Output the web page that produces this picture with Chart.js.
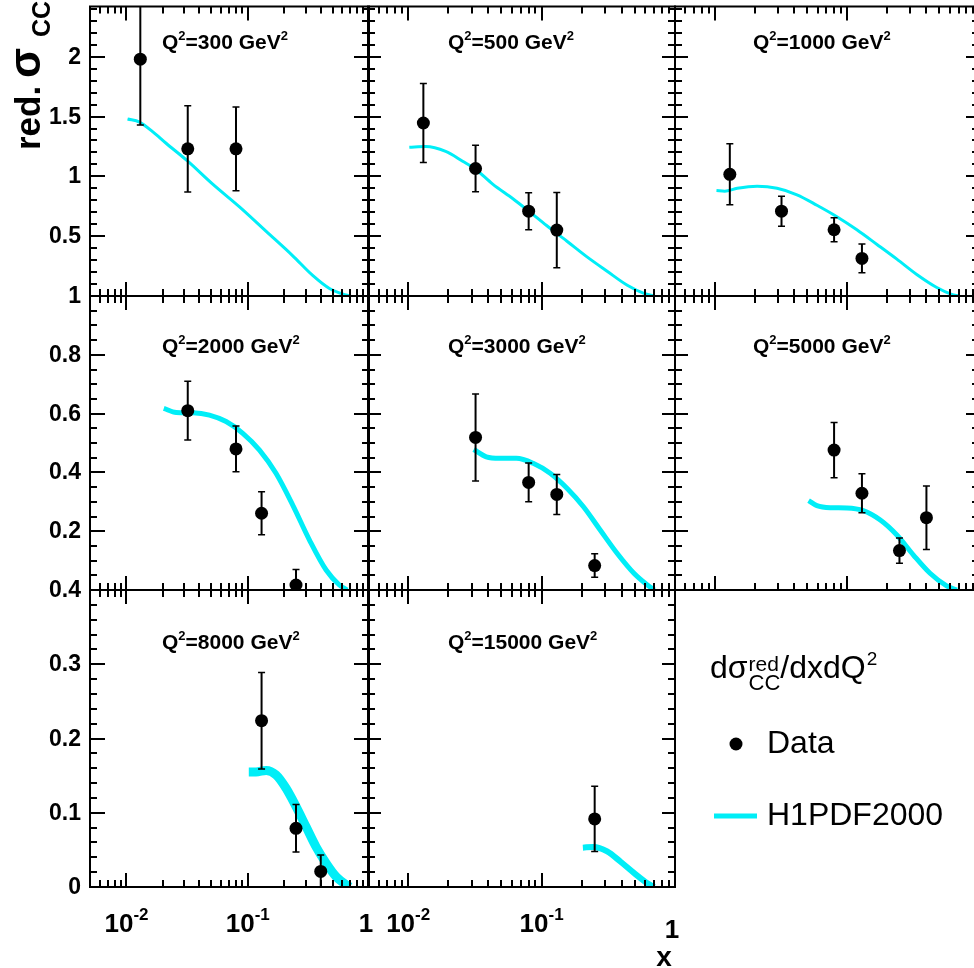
<!DOCTYPE html>
<html>
<head>
<meta charset="utf-8">
<script src="https://cdn.jsdelivr.net/npm/chart.js@4/dist/chart.umd.min.js"></script>
<style>
  html, body { margin: 0; padding: 0; background: #fff; overflow: hidden; }
  #wrap { position: relative; width: 974px; height: 968px; overflow: hidden; background: #fff; }
  #wrap canvas { position: absolute; left: 0; top: 0; }
</style>
</head>
<body>
<div id="wrap"></div>
<script>
// ---- data ----
const q2Values = ["300", "500", "1000", "2000", "3000", "5000", "8000", "15000"];

const dataX = [
  [0.013, 0.032, 0.08],
  [0.013, 0.032, 0.08, 0.13],
  [0.013, 0.032, 0.08, 0.13],
  [0.032, 0.08, 0.13, 0.25],
  [0.032, 0.08, 0.13, 0.25],
  [0.08, 0.13, 0.25, 0.40],
  [0.13, 0.25, 0.40],
  [0.25]
];
const dataY = [
  [1.98, 1.23, 1.23],
  [1.446, 1.066, 0.709, 0.551],
  [1.017, 0.709, 0.554, 0.314],
  [0.610, 0.480, 0.261, 0.017],
  [0.519, 0.366, 0.325, 0.083],
  [0.476, 0.329, 0.134, 0.246],
  [0.224, 0.079, 0.021],
  [0.0917]
];
const dataErr = [
  [0.55, 0.36, 0.35],
  [0.33, 0.195, 0.155, 0.315],
  [0.255, 0.125, 0.10, 0.12],
  [0.10, 0.078, 0.073, 0.053],
  [0.148, 0.066, 0.068, 0.040],
  [0.094, 0.066, 0.043, 0.108],
  [0.065, 0.032, 0.022],
  [0.044]
];

// H1PDF2000 curves
const curveX = [
  [0.0102, 0.0128, 0.0165, 0.0212, 0.032, 0.0514, 0.0855, 0.142, 0.235, 0.343, 0.472, 0.647, 0.70],
  [0.0102, 0.0135, 0.0191, 0.0256, 0.032, 0.043, 0.061, 0.08, 0.109, 0.155, 0.219, 0.31, 0.439, 0.585, 0.70],
  [0.0103, 0.0119, 0.0148, 0.0209, 0.0296, 0.0419, 0.0593, 0.084, 0.119, 0.169, 0.239, 0.338, 0.479, 0.621, 0.70],
  [0.0203, 0.0257, 0.0353, 0.0483, 0.0663, 0.091, 0.125, 0.171, 0.235, 0.323, 0.443, 0.570, 0.66],
  [0.031, 0.0385, 0.0485, 0.0647, 0.0865, 0.116, 0.155, 0.206, 0.275, 0.368, 0.492, 0.621, 0.70],
  [0.0513, 0.0593, 0.0748, 0.10, 0.133, 0.179, 0.239, 0.319, 0.426, 0.569, 0.68],
  [0.102, 0.117, 0.142, 0.171, 0.207, 0.251, 0.303, 0.366, 0.443, 0.535, 0.647, 0.70],
  [0.204, 0.245, 0.31, 0.391, 0.492, 0.621, 0.70]
];
const curveY = [
  [1.48, 1.454, 1.372, 1.277, 1.127, 0.935, 0.745, 0.540, 0.336, 0.172, 0.063, 0.008, 0],
  [1.244, 1.249, 1.209, 1.127, 1.06, 0.935, 0.813, 0.71, 0.589, 0.458, 0.327, 0.207, 0.090, 0.022, 0],
  [0.881, 0.876, 0.900, 0.917, 0.900, 0.846, 0.759, 0.663, 0.554, 0.431, 0.308, 0.180, 0.071, 0.014, 0],
  [0.618, 0.604, 0.603, 0.595, 0.573, 0.533, 0.476, 0.397, 0.289, 0.170, 0.068, 0.017, 0],
  [0.478, 0.453, 0.448, 0.448, 0.431, 0.397, 0.346, 0.283, 0.204, 0.125, 0.057, 0.017, 0],
  [0.304, 0.287, 0.280, 0.279, 0.270, 0.238, 0.187, 0.119, 0.057, 0.014, 0],
  [0.155, 0.155, 0.157, 0.151, 0.133, 0.108, 0.081, 0.054, 0.032, 0.014, 0.003, 0],
  [0.053, 0.054, 0.048, 0.034, 0.019, 0.005, 0]
];

// axes per row
const yMax = [2.42, 1.0, 0.4];
const yMajorStep = [0.5, 0.2, 0.1];
const yMinorStep = [0.1, 0.05, 0.02];
const yTickLabels = [
  [0.5, 1, 1.5, 2],
  [0.2, 0.4, 0.6, 0.8, 1],
  [0, 0.1, 0.2, 0.3, 0.4]
];
const xMin = 0.005, xMax = 1;
const xTickValues = [0.01, 0.1, 1];
const xTickLabels = [["10", "-2"], ["10", "-1"], ["1", ""]];

// ---- layout (pixels) ----
const W = 1000, H = 968;
const colEdges = [[90, 369], [368, 675], [675, 979]];
const rowEdges = [[0, 296], [296, 590], [590, 887]];
const titleLeft = [162, 448, 753];
const titleBase = [49, 353, 649];
const bandWidth = [3, 3, 3, 5, 5, 5, 9, 6];
const CYAN = "#00eef7";
const FF = '"Liberation Sans", Arial, Helvetica, sans-serif';
const bold = s => "bold " + s + "px " + FF;
const reg = s => s + "px " + FF;

function drawRich(ctx, parts, x, y, align) {
  let w = 0;
  parts.forEach(p => { ctx.font = p.font; w += ctx.measureText(p.t).width; });
  let cx = align === "center" ? x - w / 2 : align === "right" ? x - w : x;
  parts.forEach(p => {
    ctx.font = p.font;
    ctx.fillText(p.t, cx, y - (p.dy || 0));
    cx += ctx.measureText(p.t).width;
  });
}

function panelPlugin(i, row, col) {
  return {
    id: "rootFrame" + i,
    afterDatasetsDraw(chart) {
      // error bars
      const { ctx, chartArea: a } = chart;
      const xs = chart.scales.x, ys = chart.scales.y;
      ctx.save();
      ctx.beginPath();
      ctx.rect(a.left, a.top, a.right - a.left, a.bottom - a.top);
      ctx.clip();
      ctx.strokeStyle = "#000";
      dataX[i].forEach((xv, j) => {
        const px = xs.getPixelForValue(xv);
        const top = ys.getPixelForValue(dataY[i][j] + dataErr[i][j]);
        const bot = ys.getPixelForValue(dataY[i][j] - dataErr[i][j]);
        ctx.lineWidth = 2;
        ctx.beginPath();
        ctx.moveTo(px, top); ctx.lineTo(px, bot);
        ctx.stroke();
        ctx.lineWidth = 1.5;
        ctx.beginPath();
        ctx.moveTo(px - 3.5, top); ctx.lineTo(px + 3.5, top);
        ctx.moveTo(px - 3.5, bot); ctx.lineTo(px + 3.5, bot);
        ctx.stroke();
      });
      ctx.restore();
    },
    afterDraw(chart) {
      const { ctx, chartArea: a } = chart;
      const xs = chart.scales.x, ys = chart.scales.y;
      ctx.save();
      ctx.strokeStyle = "#000";
      ctx.fillStyle = "#000";
      ctx.lineWidth = 2;
      ctx.strokeRect(a.left, a.top, a.right - a.left, a.bottom - a.top);

      // log x ticks, top and bottom
      ctx.beginPath();
      for (let n = -3; n <= 0; n++) {
        for (let k = 1; k <= 9; k++) {
          const v = k * Math.pow(10, n);
          if (v <= xMin * 1.001 || v > xMax * 1.001) continue;
          const px = Math.round(xs.getPixelForValue(v));
          const len = k === 1 ? 14 : 7;
          ctx.moveTo(px, a.bottom); ctx.lineTo(px, a.bottom - len);
          ctx.moveTo(px, a.top); ctx.lineTo(px, a.top + len);
        }
      }
      // linear y ticks, left and right
      const nStep = Math.round(yMax[row] / yMinorStep[row] + 1e-6);
      for (let j = 0; j <= nStep; j++) {
        const v = j * yMinorStep[row];
        const r = v / yMajorStep[row];
        const major = Math.abs(r - Math.round(r)) < 1e-6;
        const py = Math.round(ys.getPixelForValue(v));
        const len = major ? (col === 0 ? 15 : 13) : 7;
        ctx.moveTo(a.left, py); ctx.lineTo(a.left + len, py);
        ctx.moveTo(a.right, py); ctx.lineTo(a.right - len, py);
      }
      ctx.stroke();

      // y tick labels on the left column
      if (col === 0) {
        ctx.textAlign = "left";
        yTickLabels[row].forEach(v => {
          const py = ys.getPixelForValue(v);
          drawRich(ctx, [{ t: String(v), font: bold(23) }], 81, py + 7, "right");
        });
      }
      // x tick labels on the bottom row
      if (row === 2) {
        xTickValues.forEach((v, j) => {
          const px = xs.getPixelForValue(v) - (v === 1 ? 3 : 0);
          const base = (col === 1 && v === 1) ? 938 : 932;
          drawRich(ctx, [
            { t: xTickLabels[j][0], font: bold(26) },
            { t: xTickLabels[j][1], font: bold(17), dy: 12 }
          ], px, base, "center");
        });
      }
      // panel title
      drawRich(ctx, [
        { t: "Q", font: bold(21) },
        { t: "2", font: bold(13), dy: 9 },
        { t: "=" + q2Values[i] + " GeV", font: bold(21) },
        { t: "2", font: bold(13), dy: 9 }
      ], titleLeft[col], titleBase[row], "left");

      // axis titles
      if (i === 0) {
        ctx.save();
        ctx.translate(40, 150);
        ctx.rotate(-Math.PI / 2);
        ctx.font = bold(35);
        ctx.fillText("red.", 0, 0);
        ctx.font = bold(44);
        ctx.fillText("\u03c3", 72, 0);
        ctx.font = bold(25);
        ctx.fillText("CC", 113, 10);
        ctx.restore();
      }
      if (i === 7) {
        ctx.font = bold(28);
        ctx.textAlign = "center";
        ctx.fillText("x", 664, 966);
        ctx.textAlign = "left";
        // legend
        const x0 = 710;
        ctx.font = reg(32);
        ctx.fillText("d\u03c3", x0, 678);
        const x1 = x0 + ctx.measureText("d\u03c3").width + 1;
        ctx.font = reg(21);
        ctx.fillText("red", x1, 671);
        const wr = ctx.measureText("red").width;
        ctx.font = reg(22);
        ctx.fillText("CC", x1, 690);
        const x2 = x1 + Math.max(wr, ctx.measureText("CC").width);
        ctx.font = reg(32);
        ctx.fillText("/dxdQ", x2, 678);
        const x3 = x2 + ctx.measureText("/dxdQ").width + 1;
        ctx.font = reg(19);
        ctx.fillText("2", x3, 665);

        ctx.beginPath();
        ctx.arc(736, 744, 6.5, 0, Math.PI * 2);
        ctx.fill();
        ctx.font = reg(32);
        ctx.fillText("Data", 767, 753);

        ctx.strokeStyle = CYAN;
        ctx.lineWidth = 5;
        ctx.beginPath();
        ctx.moveTo(714, 816); ctx.lineTo(757, 816);
        ctx.stroke();
        ctx.fillText("H1PDF2000", 767, 825);
      }
      ctx.restore();
    }
  };
}

const wrap = document.getElementById("wrap");
q2Values.forEach((q2, i) => {
  const row = Math.floor(i / 3), col = i % 3;
  const cv = document.createElement("canvas");
  cv.width = W; cv.height = H;
  cv.style.width = W + "px"; cv.style.height = H + "px";
  wrap.appendChild(cv);

  const [L, R] = colEdges[col];
  const [T, B] = rowEdges[row];

  new Chart(cv, {
    type: "scatter",
    data: {
      datasets: [
        {
          type: "line",
          label: "H1PDF2000",
          data: curveX[i].map((x, j) => ({ x: x, y: curveY[i][j] })),
          borderColor: CYAN,
          borderWidth: bandWidth[i],
          pointRadius: 0,
          fill: false,
          cubicInterpolationMode: "monotone",
          order: 2
        },
        {
          label: "Data",
          data: dataX[i].map((x, j) => ({ x: x, y: dataY[i][j] })),
          backgroundColor: "#000",
          borderColor: "#000",
          pointRadius: 6.5,
          borderWidth: 0,
          showLine: false,
          order: 1
        }
      ]
    },
    options: {
      responsive: false,
      animation: false,
      events: [],
      devicePixelRatio: 1,
      layout: { padding: { left: L, right: W - R, top: T, bottom: H - B } },
      plugins: { legend: { display: false }, tooltip: { enabled: false } },
      scales: {
        x: { type: "logarithmic", min: xMin, max: xMax, display: false },
        y: { type: "linear", min: 0, max: yMax[row], display: false }
      }
    },
    plugins: [panelPlugin(i, row, col)]
  });
});
</script>
</body>
</html>
